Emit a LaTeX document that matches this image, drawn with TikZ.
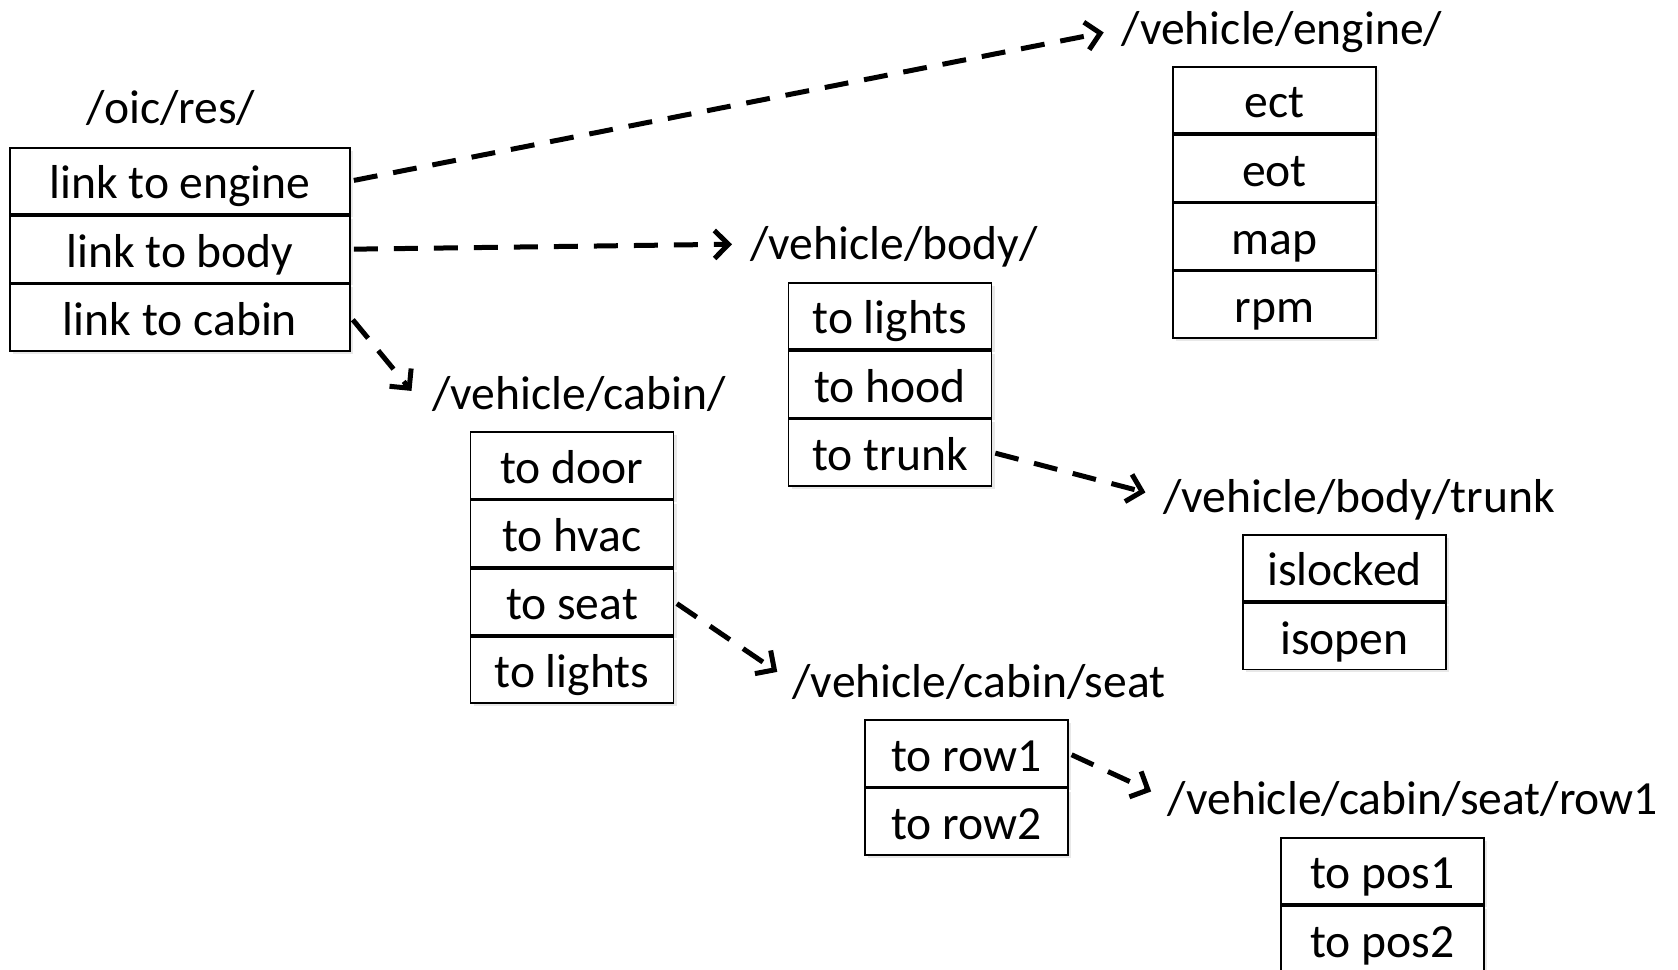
\documentclass[tikz,border=0pt]{standalone}
\usepackage{fontspec}
\setmainfont{Carlito}
\usetikzlibrary{positioning,arrows.meta,shadows}

\begin{document}
\begin{tikzpicture}[x=0.5pt,y=-0.5pt,
  cell/.style={draw,line width=0.9pt,fill=white,minimum width=101.5pt,minimum height=33.2pt,
    inner sep=0pt,text height=17.8pt,text depth=0pt,font=\fontsize{23.8}{28}\selectfont,
    drop shadow={opacity=0.18,shadow xshift=1.5pt,shadow yshift=-1.5pt}},
  widecell/.style={cell,minimum width=170pt},
  respath/.style={inner sep=0pt,text height=17.8pt,text depth=2pt,font=\fontsize{23.8}{28}\selectfont},
  link/.style={line width=2.5pt,dash pattern=on 12pt off 8pt,shorten <=1.5pt,shorten >=9pt,
    -{Straight Barb[length=7pt,width=14pt]}}]
\useasboundingbox (0,0) rectangle (1678,970);

% /oic/res/
\node[respath] (oiclbl) at (171,108) {/oic/res/};
\node[widecell] (oic1) at (180,181) {link to engine};
\node[widecell,below=0pt of oic1] (oic2) {link to body};
\node[widecell,below=0pt of oic2] (oic3) {link to cabin};

% engine
\node[respath] (englbl) at (1282,29) {/vehicle/engine/};
\node[cell] (eng1) at (1274.5,100) {ect};
\node[cell,below=0pt of eng1] (eng2) {eot};
\node[cell,below=0pt of eng2] (eng3) {map};
\node[cell,below=0pt of eng3] (eng4) {rpm};

% body
\node[respath] (bodylbl) at (894,244) {/vehicle/body/};
\node[cell] (body1) at (890,316) {to lights};
\node[cell,below=0pt of body1] (body2) {to hood};
\node[cell,below=0pt of body2] (body3) {to trunk};

% cabin
\node[respath] (cablbl) at (579,394) {/vehicle/cabin/};
\node[cell] (cab1) at (572,465.5) {to door};
\node[cell,below=0pt of cab1] (cab2) {to hvac};
\node[cell,below=0pt of cab2] (cab3) {to seat};
\node[cell,below=0pt of cab3] (cab4) {to lights};

% trunk
\node[respath] (trunklbl) at (1359,497) {/vehicle/body/trunk};
\node[cell] (trunk1) at (1344.5,568) {islocked};
\node[cell,below=0pt of trunk1] (trunk2) {isopen};

% seat
\node[respath] (seatlbl) at (979,682) {/vehicle/cabin/seat};
\node[cell] (seat1) at (966.5,753.5) {to row1};
\node[cell,below=0pt of seat1] (seat2) {to row2};

% row1
\node[respath] (rowlbl) at (1413,799) {/vehicle/cabin/seat/row1};
\node[cell] (row1) at (1382.5,871) {to pos1};
\node[cell,below=0pt of row1] (row2) {to pos2};

% links
\draw[link] (oic1.east) -- (englbl.west);
\draw[link] (oic2.east) -- (bodylbl.west);
\draw[link,shorten >=2pt] (oic3.east) -- ([xshift=-9pt]cablbl.west);
\draw[link] (body3.east) -- (trunklbl.west);
\draw[link] (cab3.east) -- (seatlbl.west);
\draw[link] (seat1.east) -- (rowlbl.west);
\end{tikzpicture}
\end{document}
